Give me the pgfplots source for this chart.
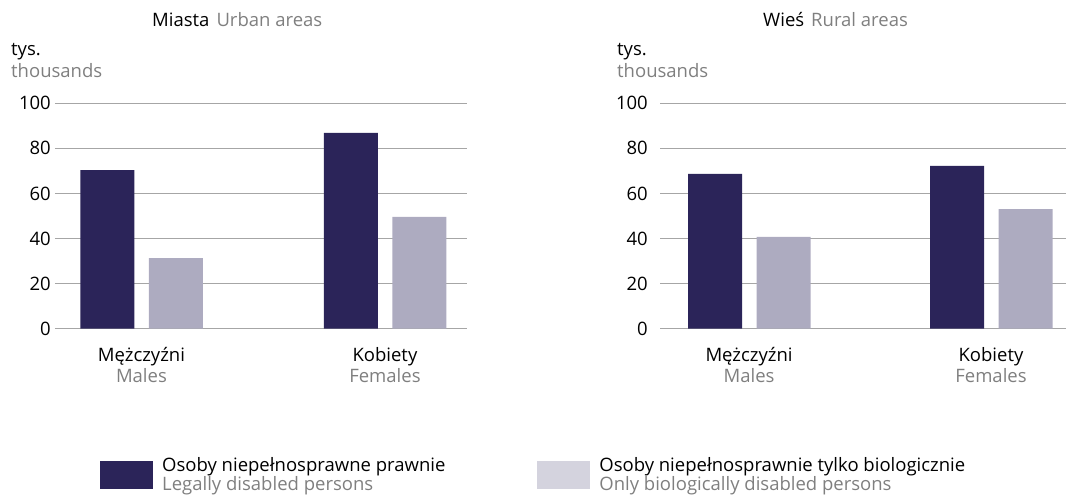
\documentclass[border=0pt]{standalone}
\usepackage{pgfplots}
\pgfplotsset{compat=1.18}
\usepackage{fontspec}
\setmainfont{Open Sans}
\definecolor{darkbar}{HTML}{2B2459}
\definecolor{lightbar}{HTML}{ADABC0}
\definecolor{lightleg}{HTML}{D4D3DE}
\definecolor{gridc}{HTML}{A6A6A6}
\definecolor{txtgrey}{HTML}{7F7F7F}
\pgfplotsset{
  base/.style={
    scale only axis, height=225.4pt,
    ymin=0, ymax=100, ytick={0,20,...,100},
    ymajorgrids, grid style={line width=1.2pt, draw=gridc},
    axis line style={draw=none}, major tick length=0pt,
    xtick={0,1},
    /pgf/number format/assume math mode=true,
    tick label style={font=\fontsize{18.5}{21.5}\selectfont},
    xticklabel style={align=center, yshift=-12pt},
    xticklabels={{Mężczyźni\\\textcolor{txtgrey}{Males}},{Kobiety\\\textcolor{txtgrey}{Females}}},
    clip=false,
  },
  darkst/.style={ybar, bar width=54pt, bar shift=-34pt, fill=darkbar, draw=none},
  lightst/.style={ybar, bar width=54pt, bar shift=34.5pt, fill=lightbar, draw=none},
}
\begin{document}
\fontsize{18.5}{22}\selectfont
\begin{tikzpicture}[x=1pt,y=1pt]
\path[use as bounding box] (0,0) rectangle (1066,495);
\begin{axis}[base, at={(55pt,166.3pt)}, anchor=south west, width=412pt,
  xmin=-0.355, xmax=1.337,
  yticklabel style={inner sep=0pt, xshift=-4pt},
  legend columns=2,
  legend style={draw=none, fill=none, at={(0.102,-0.552)}, anchor=north west,
    font=\fontsize{18.5}{19.5}\selectfont,
    cells={anchor=west, align=left},
    /tikz/every odd column/.append style={column sep=7pt},
    /tikz/every even column/.append style={column sep=90pt}},
]
\addplot[darkst, legend image code/.code={\fill[darkbar] (0pt,-14pt) rectangle (53pt,14pt);}] coordinates {(0,70.4) (1,86.9)};
\addlegendentry{Osoby niepełnosprawne prawnie\\\textcolor{txtgrey}{Legally disabled persons}}
\addplot[lightst, legend image code/.code={\fill[lightleg] (0pt,-14pt) rectangle (53pt,14pt);}] coordinates {(0,31.3) (1,49.6)};
\addlegendentry{Osoby niepełnosprawnie tylko biologicznie\\\textcolor{txtgrey}{Only biologically disabled persons}}
\end{axis}
\begin{axis}[base, at={(660pt,166.3pt)}, anchor=south west, width=406pt,
  xmin=-0.368, xmax=1.31,
  yticklabel style={inner sep=0pt, xshift=-12pt}]
\addplot[darkst] coordinates {(0,68.7) (1,72.2)};
\addplot[lightst] coordinates {(0,40.7) (1,53.1)};
\end{axis}
\node[anchor=west, inner sep=0pt] at (152,475) {Miasta\hspace{7pt}\textcolor{txtgrey}{Urban areas}};
\node[anchor=west, inner sep=0pt] at (763,475) {Wieś\hspace{7pt}\textcolor{txtgrey}{Rural areas}};
\node[anchor=north west, align=left, inner sep=0pt] at (11,452) {tys.\\\textcolor{txtgrey}{thousands}};
\node[anchor=north west, align=left, inner sep=0pt] at (617,452) {tys.\\\textcolor{txtgrey}{thousands}};
\end{tikzpicture}
\end{document}
